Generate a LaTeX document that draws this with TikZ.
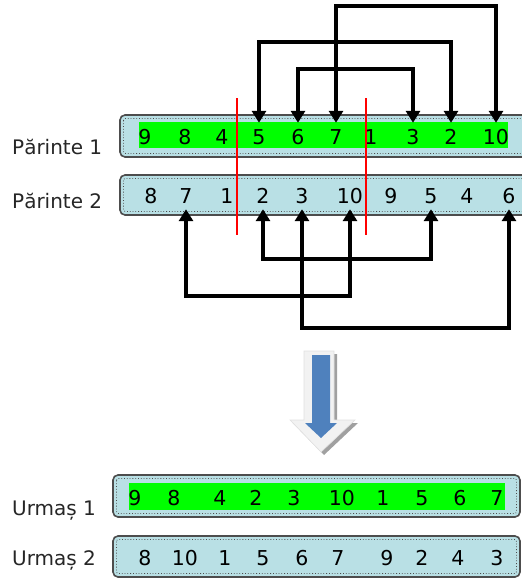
\documentclass[tikz,border=0pt]{standalone}
\usepackage{fontspec}
\setmainfont{DejaVu Sans}
\usetikzlibrary{arrows.meta}
\definecolor{boxfill}{HTML}{B9E0E5}
\definecolor{boxline}{HTML}{4D4D4D}
\definecolor{arrblue}{HTML}{4F81BD}
\definecolor{arrlight}{HTML}{F2F2F2}
\definecolor{arrshadow}{HTML}{A0A0A0}
\definecolor{hl}{HTML}{00FF00}
\begin{document}
\begin{tikzpicture}[x=1pt,y=-1pt,
  chrom/.style={draw=boxline, line width=1.6pt, rounded corners=5pt, fill=boxfill},
  innerline/.style={draw=black!70, dotted, line width=0.8pt, rounded corners=2pt},
  digit/.style={font=\fontsize{20.5}{24}\selectfont, inner xsep=0pt, inner ysep=6pt, text height=15pt, text depth=0pt, anchor=base},
  lab/.style={font=\fontsize{20}{24}\selectfont, anchor=base west, inner sep=0pt, text=black!85},
  conn/.style={line width=4.5pt, {Triangle[width=14pt,length=12pt]}-{Triangle[width=14pt,length=12pt]}},
  cut/.style={draw=red, line width=2.6pt}
]
\useasboundingbox (0,0) rectangle (522,579);
\clip (0,0) rectangle (522,579);

% Parent 1
\draw[chrom] (120,115) rectangle (545,157);
\draw[innerline] (123.5,118.5) rectangle (541.5,153.5);
\fill[hl] (139,122) rectangle (508,148);
\foreach \n/\x/\t in {a/145/9, b/185/8, c/222/4, d/259/5, e/298/6, f/336/7, g/371/1, h/413/3, i/451/2, j/496/10}
  \node[digit] (p1\n) at (\x,144) {\t};

% Parent 2
\draw[chrom] (120,175) rectangle (545,215);
\draw[innerline] (123.5,178.5) rectangle (541.5,211.5);
\foreach \n/\x/\t in {a/151/8, b/186/7, c/227/1, d/263/2, e/302/3, f/350/10, g/391/9, h/431/5, i/467/4, j/509/6}
  \node[digit] (p2\n) at (\x,203) {\t};

% cut lines
\draw[cut] (237,98) -- (237,235);
\draw[cut] (366,98) -- (366,235);

% connectors parent 1
\draw[conn] (p1f.north) -- ++(0,-117) -| (p1j.north);
\draw[conn] (p1d.north) -- ++(0,-81) -| (p1i.north);
\draw[conn] (p1e.north) -- ++(0,-54) -| (p1h.north);

% connectors parent 2
\draw[conn] (p2b.south) -- ++(0,87) -| (p2f.south);
\draw[conn] (p2d.south) -- ++(0,50) -| (p2h.south);
\draw[conn] (p2e.south) -- ++(0,119) -| (p2j.south);

% big arrow
\fill[arrshadow] (307,354) -- (337,354) -- (337,423) -- (358,423) -- (324,455) -- (293,423) -- (307,423) -- cycle;
\filldraw[fill=arrlight, draw=black!12, line width=0.6pt] (304,351) -- (334,351) -- (334,420) -- (355,420) -- (321,452) -- (290,420) -- (304,420) -- cycle;
\fill[arrblue] (312,355) -- (330,355) -- (330,423) -- (337,423) -- (321,438) -- (305,423) -- (312,423) -- cycle;

% Offspring 1
\draw[chrom] (113,475) rectangle (520,517);
\draw[innerline] (116.5,478.5) rectangle (516.5,513.5);
\fill[hl] (129,483) rectangle (505,510);
\foreach \n/\x/\t in {a/135/9, b/174/8, c/220/4, d/256/2, e/294/3, f/342/10, g/383/1, h/422/5, i/460/6, j/497/7}
  \node[digit] (u1\n) at (\x,505) {\t};

% Offspring 2
\draw[chrom] (113,536) rectangle (520,577);
\draw[innerline] (116.5,539.5) rectangle (516.5,573.5);
\foreach \n/\x/\t in {a/145/8, b/185/10, c/225/1, d/263/5, e/302/6, f/338/7, g/387/9, h/422/2, i/458/4, j/497/3}
  \node[digit] (u2\n) at (\x,565) {\t};

% labels
\node[lab] (l1) at (12,154) {Părinte 1};
\node[lab] (l2) at (12,208) {Părinte 2};
\node[lab] (l3) at (12,515) {Urmaș 1};
\node[lab] (l4) at (12,565) {Urmaș 2};
\end{tikzpicture}
\end{document}
